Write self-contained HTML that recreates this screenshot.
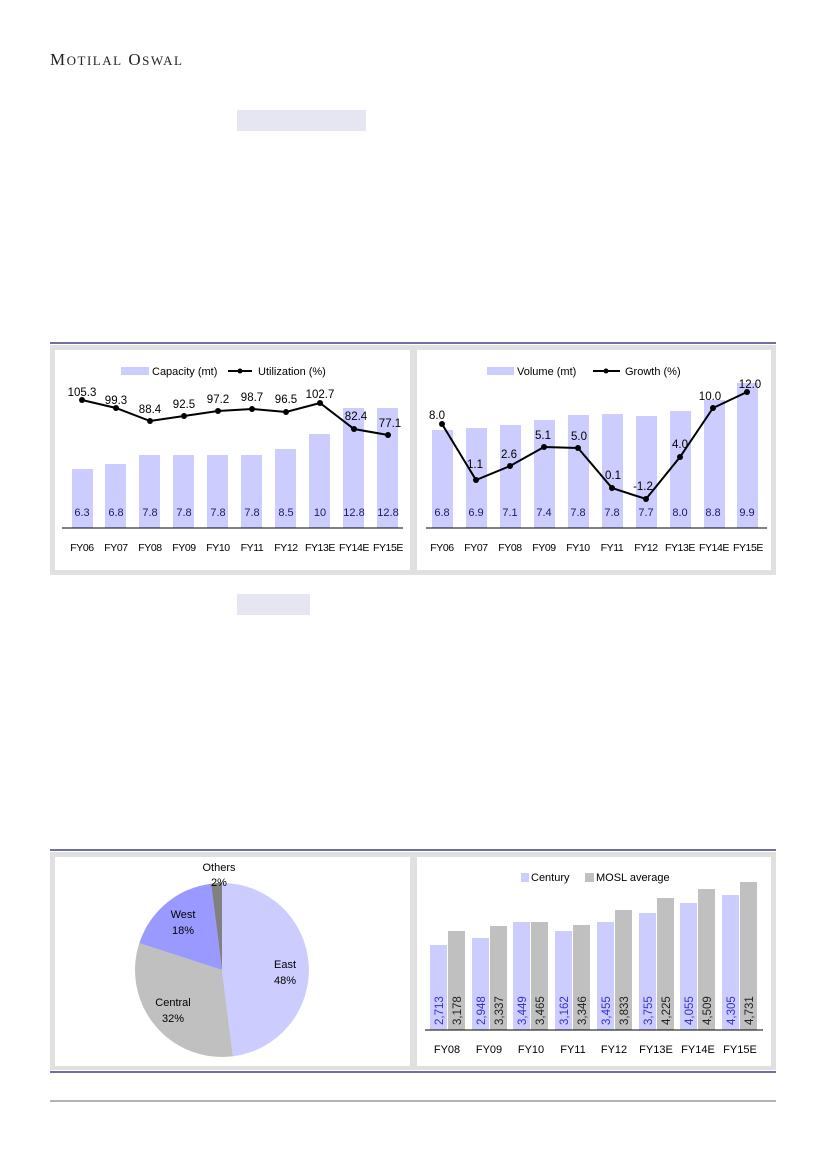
<!DOCTYPE html>
<html><head><meta charset="utf-8"><style>
html,body{margin:0;padding:0;background:#fff;}
svg{display:block;font-family:"Liberation Sans",sans-serif;}
.xl{font-size:10.5px;letter-spacing:-0.4px;}
</style></head><body>
<svg width="826" height="1169" viewBox="0 0 826 1169" xmlns="http://www.w3.org/2000/svg">
<text x="50" y="65" font-family="Liberation Serif,serif" font-size="17" fill="#222" letter-spacing="1.5">M<tspan font-size="13">OTILAL</tspan> O<tspan font-size="13">SWAL</tspan></text>
<rect x="237" y="110" width="129" height="21" fill="#e6e6f2"/>
<rect x="237" y="594" width="73" height="21" fill="#e6e6f2"/>

<line x1="50" y1="343" x2="776" y2="343" stroke="#1a1a66" stroke-width="1.2"/>
<rect x="50" y="345" width="726" height="230" fill="#e0e0e0"/>
<rect x="55" y="350" width="355" height="220" fill="#fff"/>
<rect x="417" y="350" width="354" height="220" fill="#fff"/>

<g font-size="11" fill="#000">
<rect x="121" y="367" width="28" height="8" fill="#ccccff"/>
<text x="152" y="375">Capacity (mt)</text>
<line x1="228" y1="371" x2="252" y2="371" stroke="#000" stroke-width="2"/>
<circle cx="240" cy="371" r="2.5"/>
<text x="258" y="375">Utilization (%)</text>
<g fill="#ccccff">
<rect x="72" y="469" width="21" height="59"/>
<rect x="105" y="464" width="21" height="64"/>
<rect x="139" y="455" width="21" height="73"/>
<rect x="173" y="455" width="21" height="73"/>
<rect x="207" y="455" width="21" height="73"/>
<rect x="241" y="455" width="21" height="73"/>
<rect x="275" y="449" width="21" height="79"/>
<rect x="309" y="434" width="21" height="94"/>
<rect x="343" y="408" width="21" height="120"/>
<rect x="377" y="408" width="21" height="120"/>
</g>
<line x1="62" y1="528" x2="403" y2="528" stroke="#000"/>
<g text-anchor="middle" fill="#1a1a66">
<text x="82" y="516">6.3</text><text x="116" y="516">6.8</text><text x="150" y="516">7.8</text><text x="184" y="516">7.8</text><text x="218" y="516">7.8</text><text x="252" y="516">7.8</text><text x="286" y="516">8.5</text><text x="320" y="516">10</text><text x="354" y="516">12.8</text><text x="388" y="516">12.8</text>
</g>
<polyline points="82,400 116,408 150,421 184,416 218,411 252,409 286,412 320,403 354,429 388,435" fill="none" stroke="#000" stroke-width="2"/>
<g><circle cx="82" cy="400" r="3"/><circle cx="116" cy="408" r="3"/><circle cx="150" cy="421" r="3"/><circle cx="184" cy="416" r="3"/><circle cx="218" cy="411" r="3"/><circle cx="252" cy="409" r="3"/><circle cx="286" cy="412" r="3"/><circle cx="320" cy="403" r="3"/><circle cx="354" cy="429" r="3"/><circle cx="388" cy="435" r="3"/></g>
<g text-anchor="middle" font-size="11.5">
<text x="82" y="396">105.3</text><text x="116" y="404">99.3</text><text x="150" y="413">88.4</text><text x="184" y="408">92.5</text><text x="218" y="403">97.2</text><text x="252" y="401">98.7</text><text x="286" y="403">96.5</text><text x="320" y="398">102.7</text><text x="356" y="420">82.4</text><text x="390" y="427">77.1</text>
</g>
<g text-anchor="middle" class="xl">
<text x="82" y="551">FY06</text><text x="116" y="551">FY07</text><text x="150" y="551">FY08</text><text x="184" y="551">FY09</text><text x="218" y="551">FY10</text><text x="252" y="551">FY11</text><text x="286" y="551">FY12</text><text x="320" y="551">FY13E</text><text x="354" y="551">FY14E</text><text x="388" y="551">FY15E</text>
</g>
</g>

<g font-size="11" fill="#000">
<rect x="487" y="367" width="27" height="8" fill="#ccccff"/>
<text x="517" y="375">Volume (mt)</text>
<line x1="593" y1="371" x2="620" y2="371" stroke="#000" stroke-width="2"/>
<circle cx="606" cy="371" r="2.5"/>
<text x="625" y="375">Growth (%)</text>
<g fill="#ccccff">
<rect x="432" y="430" width="21" height="98"/>
<rect x="466" y="428" width="21" height="100"/>
<rect x="500" y="425" width="21" height="103"/>
<rect x="534" y="420" width="21" height="108"/>
<rect x="568" y="415" width="21" height="113"/>
<rect x="602" y="414" width="21" height="114"/>
<rect x="636" y="416" width="21" height="112"/>
<rect x="670" y="411" width="21" height="117"/>
<rect x="704" y="400" width="21" height="128"/>
<rect x="737" y="383" width="21" height="145"/>
</g>
<line x1="426" y1="528" x2="767" y2="528" stroke="#000"/>
<g text-anchor="middle" fill="#1a1a66">
<text x="442" y="516">6.8</text><text x="476" y="516">6.9</text><text x="510" y="516">7.1</text><text x="544" y="516">7.4</text><text x="578" y="516">7.8</text><text x="612" y="516">7.8</text><text x="646" y="516">7.7</text><text x="680" y="516">8.0</text><text x="713" y="516">8.8</text><text x="747" y="516">9.9</text>
</g>
<polyline points="442,424 476,480 510,466 544,447 578,448 612,488 646,499 680,457 713,408 747,392" fill="none" stroke="#000" stroke-width="2"/>
<g><circle cx="442" cy="424" r="3"/><circle cx="476" cy="480" r="3"/><circle cx="510" cy="466" r="3"/><circle cx="544" cy="447" r="3"/><circle cx="578" cy="448" r="3"/><circle cx="612" cy="488" r="3"/><circle cx="646" cy="499" r="3"/><circle cx="680" cy="457" r="3"/><circle cx="713" cy="408" r="3"/><circle cx="747" cy="392" r="3"/></g>
<g text-anchor="middle" font-size="11.5">
<text x="437" y="419">8.0</text><text x="475" y="468">1.1</text><text x="509" y="458">2.6</text><text x="543" y="439">5.1</text><text x="579" y="440">5.0</text><text x="613" y="479">0.1</text><text x="643" y="490">-1.2</text><text x="680" y="448">4.0</text><text x="710" y="400">10.0</text><text x="750" y="388">12.0</text>
</g>
<g text-anchor="middle" class="xl">
<text x="442" y="551">FY06</text><text x="476" y="551">FY07</text><text x="510" y="551">FY08</text><text x="544" y="551">FY09</text><text x="578" y="551">FY10</text><text x="612" y="551">FY11</text><text x="646" y="551">FY12</text><text x="680" y="551">FY13E</text><text x="714" y="551">FY14E</text><text x="748" y="551">FY15E</text>
</g>
</g>

<line x1="50" y1="850" x2="776" y2="850" stroke="#1a1a66" stroke-width="1.2"/>
<rect x="50" y="852" width="726" height="218" fill="#e0e0e0"/>
<rect x="55" y="857" width="355" height="209" fill="#fff"/>
<rect x="417" y="857" width="354" height="209" fill="#fff"/>
<line x1="50" y1="1072" x2="776" y2="1072" stroke="#1a1a66" stroke-width="1.2"/>
<line x1="50" y1="1101" x2="776" y2="1101" stroke="#333" stroke-width="0.8"/>

<path d="M222,970 L222,883 A87,87 0 0 1 232.9,1056.3 Z" fill="#ccccff"/>
<path d="M222,970 L232.9,1056.3 A87,87 0 0 1 139.3,943.1 Z" fill="#c0c0c0"/>
<path d="M222,970 L139.3,943.1 A87,87 0 0 1 211.1,883.7 Z" fill="#9999ff"/>
<path d="M222,970 L211.1,883.7 A87,87 0 0 1 222,883 Z" fill="#808080"/>
<g font-size="11" fill="#000" text-anchor="middle">
<text x="219" y="871">Others</text><text x="219" y="886">2%</text>
<text x="183" y="918">West</text><text x="183" y="934">18%</text>
<text x="285" y="968">East</text><text x="285" y="984">48%</text>
<text x="173" y="1006">Central</text><text x="173" y="1022">32%</text>
</g>

<g font-size="11" fill="#000">
<rect x="521" y="873" width="8" height="9" fill="#ccccff"/>
<text x="531" y="881">Century</text>
<rect x="585" y="873" width="9" height="9" fill="#c0c0c0"/>
<text x="596" y="881">MOSL average</text>
<g fill="#ccccff">
<rect x="430" y="945" width="17" height="85"/><rect x="472" y="938" width="17" height="92"/><rect x="513" y="922" width="17" height="108"/><rect x="555" y="931" width="17" height="99"/><rect x="597" y="922" width="17" height="108"/><rect x="639" y="913" width="17" height="117"/><rect x="680" y="903" width="17" height="127"/><rect x="722" y="895" width="17" height="135"/>
</g>
<g fill="#c0c0c0">
<rect x="448" y="931" width="17" height="99"/><rect x="490" y="926" width="17" height="104"/><rect x="531" y="922" width="17" height="108"/><rect x="573" y="925" width="17" height="105"/><rect x="615" y="910" width="17" height="120"/><rect x="657" y="898" width="17" height="132"/><rect x="698" y="889" width="17" height="141"/><rect x="740" y="882" width="17" height="148"/>
</g>
<line x1="425" y1="1030" x2="763" y2="1030" stroke="#000"/>
<g font-size="11.5" fill="#3333cc">
<text transform="translate(443,1025) rotate(-90)">2,713</text><text transform="translate(485,1025) rotate(-90)">2,948</text><text transform="translate(526,1025) rotate(-90)">3,449</text><text transform="translate(568,1025) rotate(-90)">3,162</text><text transform="translate(610,1025) rotate(-90)">3,455</text><text transform="translate(652,1025) rotate(-90)">3,755</text><text transform="translate(693,1025) rotate(-90)">4,055</text><text transform="translate(735,1025) rotate(-90)">4,305</text>
</g>
<g font-size="11.5" fill="#222">
<text transform="translate(461,1025) rotate(-90)">3,178</text><text transform="translate(503,1025) rotate(-90)">3,337</text><text transform="translate(544,1025) rotate(-90)">3,465</text><text transform="translate(586,1025) rotate(-90)">3,346</text><text transform="translate(628,1025) rotate(-90)">3,833</text><text transform="translate(670,1025) rotate(-90)">4,225</text><text transform="translate(711,1025) rotate(-90)">4,509</text><text transform="translate(753,1025) rotate(-90)">4,731</text>
</g>
<g text-anchor="middle" font-size="11">
<text x="447" y="1053">FY08</text><text x="489" y="1053">FY09</text><text x="531" y="1053">FY10</text><text x="573" y="1053">FY11</text><text x="614" y="1053">FY12</text><text x="656" y="1053">FY13E</text><text x="698" y="1053">FY14E</text><text x="740" y="1053">FY15E</text>
</g>
</g>
</svg>
</body></html>
